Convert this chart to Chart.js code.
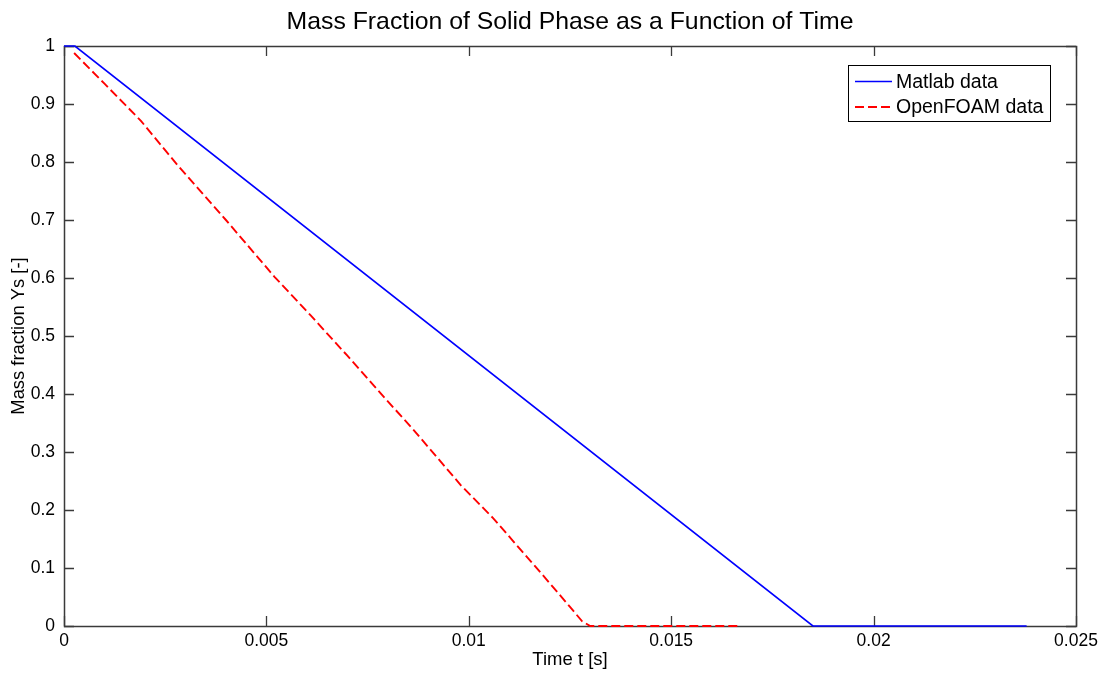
<!DOCTYPE html>
<html>
<head>
<meta charset="utf-8">
<script src="https://cdn.jsdelivr.net/npm/chart.js@4/dist/chart.umd.min.js"></script>
<style>
  html, body { margin: 0; padding: 0; background: #fff; }
  #wrap { width: 1107px; height: 673px; }
</style>
</head>
<body>
<div id="wrap"><canvas id="c" width="1107" height="673"></canvas></div>
<script>
// Solid-phase mass fraction over time: analytic (Matlab) vs. simulated (OpenFOAM)
const matlabTime = [0, 0.00027, 0.0185, 0.02378];
const matlabYs   = [1, 1, 0, 0];

const foamTime = [0.00025, 0.0010, 0.0019, 0.0028, 0.0040, 0.0052, 0.0061, 0.0070, 0.0079, 0.0086, 0.0098, 0.0106, 0.0118, 0.0125, 0.0128, 0.0130, 0.0167];
const foamYs   = [0.988, 0.935, 0.871, 0.795, 0.700, 0.602, 0.535, 0.466, 0.395, 0.341, 0.243, 0.186, 0.090, 0.033, 0.008, 0, 0];

const xTickLabels = ['0', '0.005', '0.01', '0.015', '0.02', '0.025'];
const yTickLabels = ['0', '0.1', '0.2', '0.3', '0.4', '0.5', '0.6', '0.7', '0.8', '0.9', '1'];

const chartTitle = 'Mass Fraction of Solid Phase as a Function of Time';

const FONT = '"Liberation Sans", Arial, sans-serif';
const AXIS_COLOR = '#3a3a3a';

function toPoints(xs, ys) { return xs.map((x, i) => ({ x: x, y: ys[i] })); }

// Title centred over the plotting area rather than the whole canvas
const axesTitlePlugin = {
  id: 'axesTitle',
  afterDraw(chart) {
    const { ctx, chartArea: a } = chart;
    ctx.save();
    ctx.font = '24.8px ' + FONT;
    ctx.fillStyle = '#000';
    ctx.textAlign = 'center';
    ctx.textBaseline = 'middle';
    ctx.fillText(chartTitle, (a.left + a.right) / 2, a.top - 24);
    ctx.restore();
  }
};

// Box around the axes with inward tick marks on all four sides
const framePlugin = {
  id: 'frame',
  beforeDatasetsDraw(chart) {
    const { ctx, chartArea: a, scales } = chart;
    const len = 10;
    ctx.save();
    ctx.strokeStyle = AXIS_COLOR;
    ctx.lineWidth = 1.3;
    ctx.beginPath();
    scales.x.ticks.forEach(t => {
      const px = Math.round(scales.x.getPixelForValue(t.value)) + 0.5;
      ctx.moveTo(px, a.bottom); ctx.lineTo(px, a.bottom - len);
      ctx.moveTo(px, a.top); ctx.lineTo(px, a.top + len);
    });
    scales.y.ticks.forEach(t => {
      const py = Math.round(scales.y.getPixelForValue(t.value)) + 0.5;
      ctx.moveTo(a.left, py); ctx.lineTo(a.left + len, py);
      ctx.moveTo(a.right, py); ctx.lineTo(a.right - len, py);
    });
    ctx.stroke();
    ctx.lineWidth = 1.5;
    ctx.strokeRect(Math.round(a.left) + 0.5, Math.round(a.top) + 0.5,
                   Math.round(a.right - a.left), Math.round(a.bottom - a.top));
    ctx.restore();
  }
};

// Boxed legend in the upper-right corner of the axes
const boxLegendPlugin = {
  id: 'boxLegend',
  afterDatasetsDraw(chart) {
    const { ctx, chartArea: a } = chart;
    const boxW = 202, boxH = 56;
    const bx = a.right - 26 - boxW, by = a.top + 19;
    ctx.save();
    ctx.fillStyle = '#fff';
    ctx.fillRect(bx, by, boxW, boxH);
    ctx.strokeStyle = '#000';
    ctx.lineWidth = 1;
    ctx.strokeRect(Math.round(bx) + 0.5, Math.round(by) + 0.5, boxW, boxH);
    ctx.font = '19.5px ' + FONT;
    ctx.textBaseline = 'middle';
    ctx.fillStyle = '#000';
    chart.data.datasets.forEach((ds, i) => {
      const cy = by + 16.5 + i * 25.5;
      ctx.strokeStyle = ds.borderColor;
      ctx.lineWidth = ds.borderWidth;
      ctx.setLineDash(ds.borderDash || []);
      ctx.beginPath();
      ctx.moveTo(bx + 7, cy); ctx.lineTo(bx + 44, cy);
      ctx.stroke();
      ctx.setLineDash([]);
      ctx.fillText(ds.label, bx + 48, cy + 1);
    });
    ctx.restore();
  }
};

new Chart(document.getElementById('c'), {
  type: 'line',
  data: {
    datasets: [
      {
        label: 'Matlab data',
        data: toPoints(matlabTime, matlabYs),
        borderColor: '#0000ff',
        borderWidth: 1.7,
        pointRadius: 0,
        tension: 0,
        clip: 4
      },
      {
        label: 'OpenFOAM data',
        data: toPoints(foamTime, foamYs),
        borderColor: '#ff0000',
        borderWidth: 1.9,
        borderDash: [9, 4],
        pointRadius: 0,
        tension: 0,
        clip: 4
      }
    ]
  },
  options: {
    responsive: false,
    animation: false,
    events: [],
    layout: { padding: { left: 0, right: 31, top: 46, bottom: 0 } },
    plugins: {
      legend: { display: false },
      tooltip: { enabled: false },
      title: { display: false }
    },
    scales: {
      x: {
        type: 'linear',
        min: 0,
        max: 0.025,
        border: { display: false },
        grid: { display: false, drawTicks: false },
        ticks: {
          stepSize: 0.005,
          color: '#000',
          padding: 5,
          maxRotation: 0,
          font: { family: FONT, size: 17.5 },
          callback: (v, i) => xTickLabels[i]
        },
        title: {
          display: true,
          text: 'Time t [s]',
          color: '#000',
          font: { family: FONT, size: 18.5, lineHeight: 1.2 },
          padding: { top: 0, bottom: 2 }
        },
        afterFit(scale) { scale.height = 47; }
      },
      y: {
        type: 'linear',
        min: 0,
        max: 1,
        border: { display: false },
        grid: { display: false, drawTicks: false },
        ticks: {
          stepSize: 0.1,
          color: '#000',
          padding: 9,
          font: { family: FONT, size: 17.5 },
          callback: (v, i) => yTickLabels[i]
        },
        title: {
          display: true,
          text: 'Mass fraction Ys [-]',
          color: '#000',
          font: { family: FONT, size: 18.4, lineHeight: 1.2 },
          padding: { top: 8, bottom: 0 }
        },
        afterFit(scale) { scale.width = 64; }
      }
    }
  },
  plugins: [framePlugin, boxLegendPlugin, axesTitlePlugin]
});
</script>
</body>
</html>
